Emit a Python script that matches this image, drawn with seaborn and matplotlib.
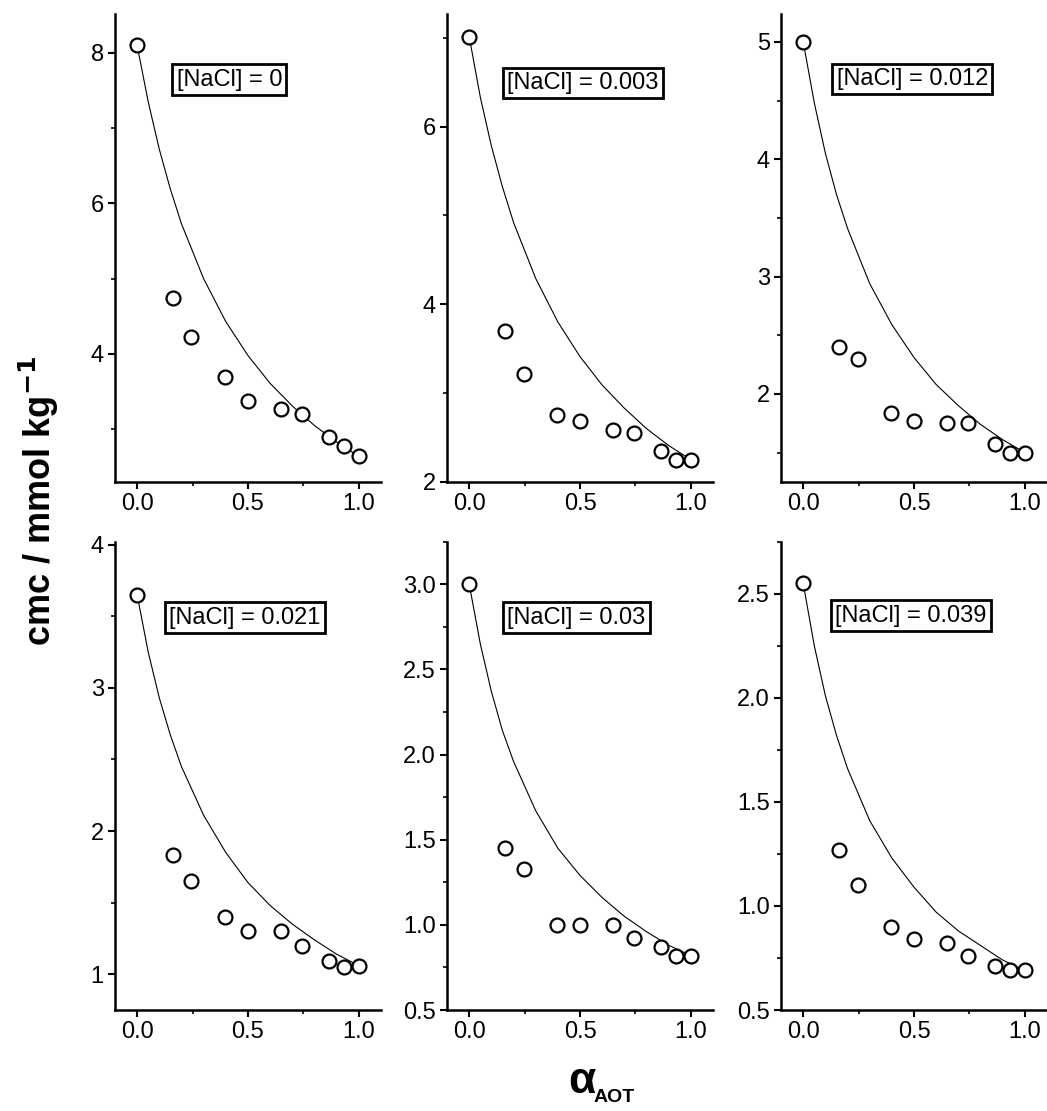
import matplotlib
matplotlib.use('Agg')
import numpy as np
import pandas as pd
import matplotlib.pyplot as plt
import seaborn as sns
from matplotlib.ticker import MultipleLocator, AutoMinorLocator

# mole fraction of AOT for the measured points
alpha = [0.0, 0.163, 0.245, 0.395, 0.5, 0.648, 0.745, 0.866, 0.932, 1.0]

# measured cmc (mmol/kg), one list per NaCl concentration
cmc_0 = [8.10, 4.74, 4.23, 3.69, 3.37, 3.27, 3.20, 2.90, 2.78, 2.64]
cmc_003 = [7.01, 3.70, 3.22, 2.75, 2.69, 2.59, 2.55, 2.35, 2.25, 2.25]
cmc_012 = [5.00, 2.40, 2.30, 1.84, 1.77, 1.75, 1.75, 1.57, 1.50, 1.50]
cmc_021 = [3.65, 1.83, 1.65, 1.40, 1.30, 1.30, 1.20, 1.09, 1.05, 1.06]
cmc_03 = [3.00, 1.45, 1.33, 1.00, 1.00, 1.00, 0.92, 0.87, 0.82, 0.82]
cmc_039 = [2.55, 1.27, 1.10, 0.90, 0.84, 0.82, 0.76, 0.71, 0.69, 0.69]

# thin curve (ideal mixing)
alpha_curve = [0.0, 0.05, 0.1, 0.15, 0.2, 0.3, 0.4, 0.5, 0.6, 0.7, 0.8, 0.9, 1.0]
curve_0 = [8.10, 7.35, 6.72, 6.19, 5.73, 5.00, 4.43, 3.98, 3.61, 3.31, 3.05, 2.83, 2.64]
curve_003 = [7.01, 6.33, 5.78, 5.32, 4.92, 4.29, 3.80, 3.41, 3.09, 2.83, 2.60, 2.41, 2.25]
curve_012 = [5.00, 4.48, 4.05, 3.70, 3.41, 2.94, 2.59, 2.31, 2.08, 1.90, 1.74, 1.61, 1.50]
curve_021 = [3.65, 3.25, 2.93, 2.67, 2.45, 2.11, 1.85, 1.64, 1.48, 1.35, 1.24, 1.14, 1.06]
curve_03 = [3.00, 2.65, 2.37, 2.14, 1.96, 1.67, 1.45, 1.29, 1.16, 1.05, 0.96, 0.88, 0.82]
curve_039 = [2.55, 2.25, 2.01, 1.82, 1.66, 1.41, 1.23, 1.09, 0.97, 0.88, 0.81, 0.74, 0.69]

labels = ['[NaCl] = 0', '[NaCl] = 0.003', '[NaCl] = 0.012',
          '[NaCl] = 0.021', '[NaCl] = 0.03', '[NaCl] = 0.039']
points = [cmc_0, cmc_003, cmc_012, cmc_021, cmc_03, cmc_039]
curves = [curve_0, curve_003, curve_012, curve_021, curve_03, curve_039]

ylims = [(2.30, 8.52), (2.0, 7.27), (1.25, 5.24), (0.75, 4.02), (0.5, 3.25), (0.5, 2.75)]
ysteps = [2, 2, 1, 1, 0.5, 0.5]
yfmt = ['%d', '%d', '%d', '%d', '%.1f', '%.1f']

sns.set_style('ticks')
plt.rcParams['font.family'] = ['Liberation Sans', 'DejaVu Sans']
plt.rcParams['axes.linewidth'] = 1.8
for key in ['text.color', 'axes.edgecolor', 'xtick.color', 'ytick.color', 'axes.labelcolor']:
    plt.rcParams[key] = 'black'

fig = plt.figure(figsize=(10.47, 11.11), dpi=100)

lefts = [0.1098, 0.427, 0.746]
bottoms = [0.5662, 0.0909]
width = 0.254
height = 0.4215
box_pos = [(0.43, 0.859), (0.51, 0.852), (0.494, 0.861),
           (0.489, 0.838), (0.487, 0.838), (0.487, 0.842)]

for i in range(6):
    r, c = divmod(i, 3)
    ax = fig.add_axes([lefts[c], bottoms[r], width, height])
    cdf = pd.DataFrame({'alpha': alpha_curve, 'cmc': curves[i]})
    pdf = pd.DataFrame({'alpha': alpha, 'cmc': points[i]})
    sns.lineplot(data=cdf, x='alpha', y='cmc', ax=ax, color='black', linewidth=0.8)
    sns.scatterplot(data=pdf, x='alpha', y='cmc', ax=ax, s=100, marker='o',
                    facecolor='white', edgecolor='black', linewidth=1.6, zorder=3)
    ax.set_xlim(-0.1, 1.1)
    ax.set_ylim(*ylims[i])
    ax.xaxis.set_major_locator(MultipleLocator(0.5))
    ax.xaxis.set_minor_locator(AutoMinorLocator(2))
    ax.yaxis.set_major_locator(MultipleLocator(ysteps[i]))
    ax.yaxis.set_minor_locator(AutoMinorLocator(2))
    ax.yaxis.set_major_formatter(plt.FormatStrFormatter(yfmt[i]))
    ax.xaxis.set_major_formatter(plt.FormatStrFormatter('%.1f'))
    ax.tick_params(which='major', length=5, width=1.5, labelsize=17, pad=3)
    ax.tick_params(which='minor', length=3, width=1.2)
    sns.despine(ax=ax)
    ax.set_xlabel('')
    ax.set_ylabel('')
    ax.text(box_pos[i][0], box_pos[i][1], labels[i], transform=ax.transAxes,
            ha='center', va='center', fontsize=17,
            bbox=dict(boxstyle='square,pad=0.18', facecolor='white',
                      edgecolor='black', linewidth=2))

fig.text(0.037, 0.549, 'cmc / mmol kg$^{\\mathbf{-1}}$', rotation=90, ha='center',
         va='center', fontsize=26, fontweight='bold')
fig.text(0.556, 0.027, '\u03b1', ha='center', va='center', fontsize=32, fontweight='bold')
fig.text(0.567, 0.012, 'AOT', ha='left', va='center', fontsize=14, fontweight='bold')

fig.savefig('out.png', dpi=100)
